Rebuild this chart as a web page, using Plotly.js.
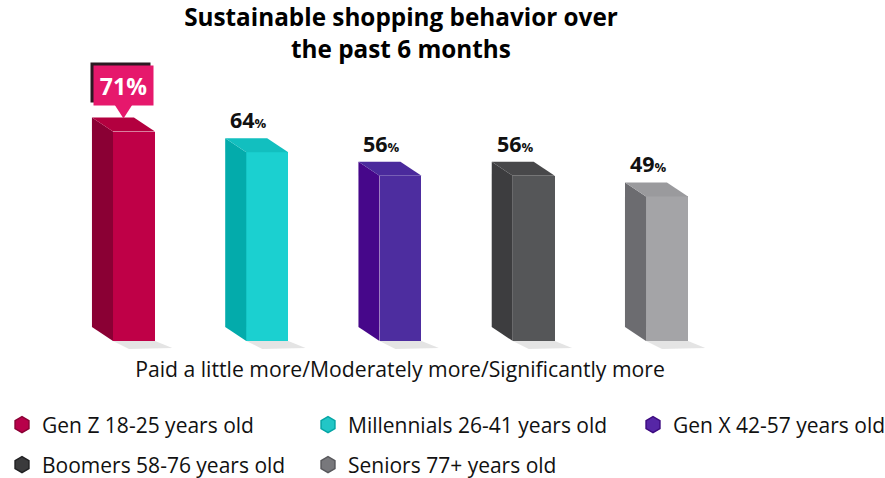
<!DOCTYPE html>
<html><head><meta charset="utf-8">
<script src="https://cdn.plot.ly/plotly-3.0.1.min.js"></script>
<style>html,body{margin:0;padding:0;background:#fff}</style>
</head><body><div id="chart" style="width:885px;height:478px"></div>
<script>
// ---- data ----
const categories = ['Gen Z 18-25 years old','Millennials 26-41 years old','Gen X 42-57 years old','Boomers 58-76 years old','Seniors 77+ years old'];
const values = [71, 64, 56, 56, 49];
const valueSuffix = '%';
const chartTitle = 'Sustainable shopping behavior over<br>the past 6 months';
const xAxisTitle = 'Paid a little more/Moderately more/Significantly more';

// ---- styles ----
const frontColors = ['#bf0047','#1bd0d0','#4d2d9f','#555658','#a4a4a7'];
const sideColors  = ['#8a0034','#03abab','#46078a','#3d3d3f','#6c6c70'];
const topColors   = ['#b3003f','#12bfbf','#4a2a9c','#48484a','#9a9a9d'];
const iconColors  = ['#b8004a','#22c6c6','#5626a6','#3a3a3c','#78787c'];
const iconLines   = ['#8a0034','#05a5a5','#3d0a80','#202022','#58585c'];
const FONT = '"Open Sans", Lato, sans-serif';

const barW = 0.315;         // front face width (x units)
const depthX = -0.158;      // oblique depth offset
const depthY = 4.75;        // oblique depth offset (y units)

const traces = [];
values.forEach((v, i) => {
  const x0 = i - barW / 2, x1 = i + barW / 2;
  // floor shadow
  traces.push({type:'scatter', mode:'lines', x:[x0, x1, x1 + 0.13, x0 + 0.12], y:[0, 0, -2.4, -2.7],
    fill:'toself', fillcolor:'rgba(205,205,205,0.55)', line:{width:0}, hoverinfo:'skip', showlegend:false});
  // side face
  traces.push({type:'scatter', mode:'lines', x:[x0, x0, x0 + depthX, x0 + depthX], y:[0, v, v + depthY, depthY],
    fill:'toself', fillcolor:sideColors[i], line:{width:0}, hoverinfo:'skip', showlegend:false});
  // top face
  traces.push({type:'scatter', mode:'lines', x:[x0, x1, x1 + depthX, x0 + depthX, x0], y:[v, v, v + depthY, v + depthY, v],
    fill:'toself', fillcolor:topColors[i], line:{width:0}, hoverinfo:'skip', showlegend:false});
});
// front faces (real bars)
values.forEach((v, i) => {
  traces.push({type:'bar', x:[i], y:[v], width:barW, name:categories[i],
    marker:{color:frontColors[i], line:{width:0}}, hoverinfo:'skip', showlegend:false});
});
// legend entries (cube-like hexagon icons)
categories.forEach((c, i) => {
  traces.push({type:'scatter', mode:'markers', x:[null], y:[null], name:c,
    legend: i === 0 ? 'legend' : 'legend' + (i + 1),
    marker:{symbol:'hexagon', size:16, color:iconColors[i], line:{color:iconLines[i], width:1.5}},
    hoverinfo:'skip'});
});

// label annotations
const maxIdx = values.indexOf(Math.max(...values));
const annotations = [];
values.forEach((v, i) => {
  if (i === maxIdx) return;
  annotations.push({x: i + depthX / 2, y: v + depthY, xref:'x', yref:'y', xanchor:'center', yanchor:'bottom',
    xshift:-8, yshift:2, showarrow:false,
    text:'<b>' + v + '</b><b><span style="font-size:13px">' + valueSuffix + '</span></b>',
    font:{family:FONT, size:21.5, color:'#111'}});
});
// highlighted callout (dark offset backing + pink box)
const hv = values[maxIdx];
annotations.push({x: maxIdx + depthX / 2, y: hv, xref:'x', yref:'y', xanchor:'center', yanchor:'bottom',
  xshift:-3, yshift:29, showarrow:false, width:55, height:35, borderpad:2, bgcolor:'#2b1a22',
  text:' ', font:{family:FONT, size:23, color:'#2b1a22'}});
annotations.push({x: maxIdx + depthX / 2, y: hv, xref:'x', yref:'y', xanchor:'center', yanchor:'bottom',
  xshift:0, yshift:26, showarrow:false, width:55, height:35, borderpad:2, bgcolor:'#e6186c',
  text:'<b>' + hv + valueSuffix + '</b>', font:{family:FONT, size:23, color:'#ffffff'}});

const shapes = [
  {type:'path', xref:'x', yref:'y', xsizemode:'pixel', ysizemode:'pixel',
   xanchor: maxIdx + depthX / 2, yanchor: hv, path:'M -9,27 L 9,27 L 0,13 Z',
   fillcolor:'#e6186c', line:{width:0}, layer:'above'}
];

// legends placement (container coords)
const legendPos = [[2, 425], [308, 425], [633, 425], [2, 465], [308, 465]];
const layout = {
  width:885, height:478,
  margin:{l:0, r:85, t:0, b:128, autoexpand:false},
  paper_bgcolor:'#fff', plot_bgcolor:'#fff',
  font:{family:FONT, color:'#111'},
  title:{text:chartTitle, font:{family:FONT, size:24.3, color:'#000', weight:'bold'},
    x:0.4531, xanchor:'center', xref:'container', y:0.945, yanchor:'top', yref:'container'},
  xaxis:{range:[-1.0056, 4.998], showticklabels:false, showgrid:false, zeroline:false, showline:false,
    ticks:'', fixedrange:true,
    title:{text:xAxisTitle, font:{family:FONT, size:21.2, color:'#111'}, standoff:12}},
  yaxis:{range:[-3.05, 115.59], visible:false, fixedrange:true},
  bargap:0,
  showlegend:true,
  annotations:annotations,
  shapes:shapes,
  hovermode:false
};
legendPos.forEach((p, i) => {
  const key = i === 0 ? 'legend' : 'legend' + (i + 1);
  layout[key] = {x: p[0] / 885, y: 1 - p[1] / 478, xref:'container', yref:'container',
    xanchor:'left', yanchor:'middle', orientation:'v', bgcolor:'rgba(0,0,0,0)', borderwidth:0,
    font:{family:FONT, size:21, color:'#111'}, itemclick:false, itemdoubleclick:false};
});

Plotly.newPlot('chart', traces, layout, {displayModeBar:false, staticPlot:true});
</script>
</body></html>
